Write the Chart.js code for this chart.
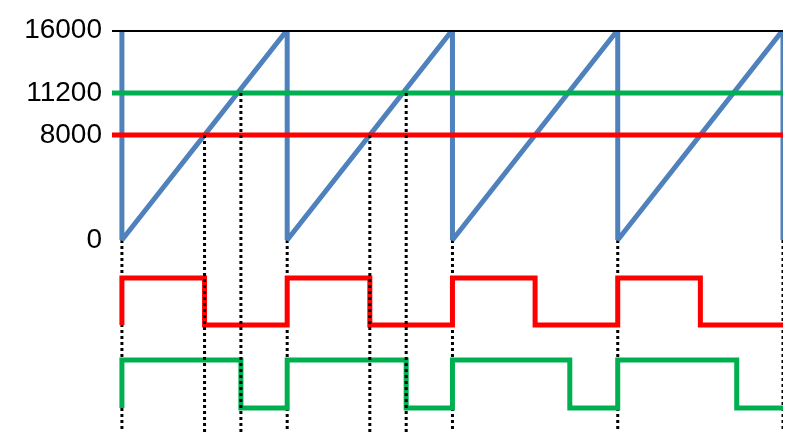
<!DOCTYPE html>
<html>
<head>
<meta charset="utf-8">
<script src="https://cdn.jsdelivr.net/npm/chart.js@4/dist/chart.umd.min.js"></script>
<style>
  html, body { margin: 0; padding: 0; background: #ffffff; }
  #wrap { width: 787px; height: 432px; }
</style>
</head>
<body>
<div id="wrap"><canvas id="c" width="787" height="432"></canvas></div>
<script>
// ---- data ----
const resetTimes   = [0, 1, 2, 3, 4];          // sawtooth reset instants (period units)
const sawLow       = 0;
const sawHigh      = 16000;
const levelBlack   = 16000;
const levelGreen   = 11200;
const levelRed     = 8000;
const yTickValues  = [0, 8000, 11200, 16000];
const redFallTimes   = [0.5, 1.5, 2.5, 3.5];   // red output goes low
const greenFallTimes = [0.72, 1.72, 2.71, 3.72]; // green output goes low
const dottedTimes  = [0, 0.5, 0.72, 1, 1.5, 1.72, 2, 3, 4];
const dottedFrom   = [0, 8000, 11200, 0, 8000, 11200, 0, 0, 0];
const xStart = -0.06, xEnd = 4;

// ---- build datasets from the arrays ----
const sawPts = [];
resetTimes.forEach(t => { sawPts.push({x: t, y: sawHigh}); sawPts.push({x: t, y: sawLow}); });

function squareWave(falls) {
  const pts = [];
  resetTimes.slice(0, falls.length).forEach((t, i) => {
    pts.push({x: t, y: 0}, {x: t, y: 1}, {x: falls[i], y: 1}, {x: falls[i], y: 0});
  });
  pts.push({x: resetTimes[resetTimes.length - 1], y: 0});
  return pts;
}

const Y_MIN = -14629;

const datasets = [
  { label: 'saw', data: sawPts, borderColor: '#4F81BD', borderWidth: 5, yAxisID: 'y', order: 6, borderJoinStyle: 'bevel' },
  { label: 'h16000', data: [{x: xStart, y: levelBlack}, {x: xEnd, y: levelBlack}], borderColor: '#000000', borderWidth: 4, yAxisID: 'y', order: 5 },
  { label: 'h11200', data: [{x: xStart, y: levelGreen}, {x: xEnd, y: levelGreen}], borderColor: '#00B050', borderWidth: 5, yAxisID: 'y', order: 5 },
  { label: 'h8000', data: [{x: xStart, y: levelRed}, {x: xEnd, y: levelRed}], borderColor: '#FF0000', borderWidth: 5, yAxisID: 'y', order: 5 },
  { label: 'red', data: squareWave(redFallTimes), borderColor: '#FF0000', borderWidth: 5, yAxisID: 'yR', order: 4, borderJoinStyle: 'miter' },
  { label: 'green', data: squareWave(greenFallTimes), borderColor: '#00B050', borderWidth: 5, yAxisID: 'yG', order: 4, borderJoinStyle: 'miter' }
];
dottedTimes.forEach((t, i) => {
  datasets.push({
    label: 'dot' + i,
    data: [{x: t, y: dottedFrom[i]}, {x: t, y: Y_MIN}],
    borderColor: '#000000', borderWidth: 3, borderDash: [3, 3],
    yAxisID: 'y', order: 1 + (dottedFrom[i] === 0 ? 6 : 0)
  });
});

datasets.forEach(d => { d.pointRadius = 0; d.pointHoverRadius = 0; d.fill = false; d.tension = 0; d.showLine = true; });

new Chart(document.getElementById('c'), {
  type: 'scatter',
  data: { datasets },
  options: {
    responsive: false,
    animation: false,
    devicePixelRatio: 1,
    layout: { padding: { top: 30, right: 4, bottom: 0, left: 0 } },
    plugins: { legend: { display: false }, tooltip: { enabled: false } },
    scales: {
      x: { type: 'linear', min: xStart, max: xEnd, display: false },
      y: {
        type: 'linear', position: 'left', min: Y_MIN, max: 16000,
        grid: { display: false }, border: { display: false },
        afterBuildTicks: s => { s.ticks = yTickValues.map(v => ({ value: v })); },
        afterFit: s => { s.width = 112; s.paddingBottom = 0; s.paddingTop = 0; },
        ticks: {
          padding: 2, color: '#000000',
          font: { family: 'Liberation Sans', size: 28 },
          callback: v => String(v)
        }
      },
      yR: { type: 'linear', display: false, min: -2.28, max: 6.28 },
      yG: { type: 'linear', display: false, min: -0.5, max: 7.875 }
    }
  }
});
</script>
</body>
</html>
